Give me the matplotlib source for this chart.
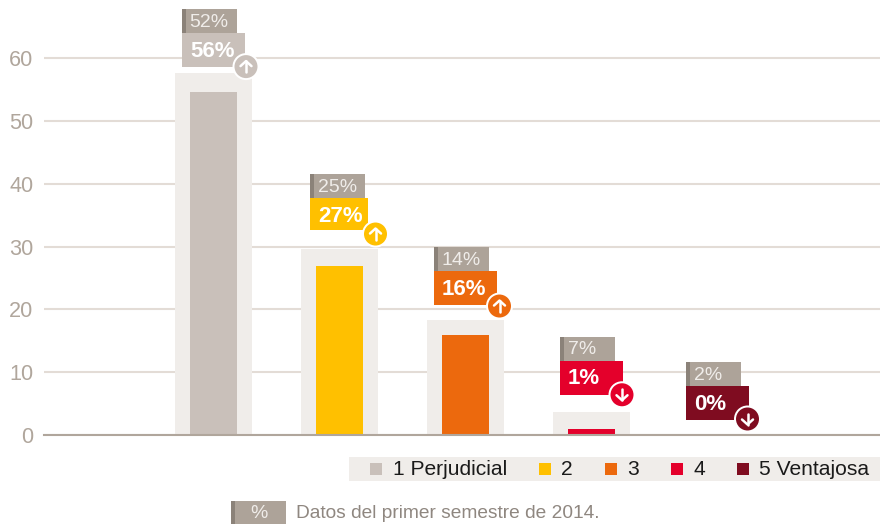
import matplotlib
matplotlib.use("Agg")
import matplotlib.pyplot as plt
from matplotlib.lines import Line2D
from matplotlib.patches import Circle, Rectangle
from matplotlib.transforms import IdentityTransform

plt.rcParams["font.family"] = ["Liberation Sans", "DejaVu Sans"]

# data
categories = ["1 Perjudicial", "2", "3", "4", "5 Ventajosa"]
values_2014 = [54.6, 26.9, 15.9, 1.0, 0.0]
values_back = [57.6, 29.6, 18.3, 3.7, 0.0]
labels_new = ["56%", "27%", "16%", "1%", "0%"]
labels_old = ["52%", "25%", "14%", "7%", "2%"]
trend_up = [True, True, True, False, False]
y_ticks = [0, 10, 20, 30, 40, 50, 60]

# styles
colors = ["#c9c0ba", "#ffc000", "#ec690d", "#e4002b", "#7f0c20"]
back_color = "#f0edea"
old_color = "#ada399"
old_dark = "#8b8279"
grid_color = "#e3dcd6"
base_color = "#b0a69c"
tick_color = "#b0a69c"

W, H = 880, 524
fig = plt.figure(figsize=(W / 100, H / 100), dpi=100)
ax = fig.add_axes([44 / W, (H - 435) / H, 836 / W, 435 / H])

ax.set_xlim((44 - 213.5) / 126, (880 - 213.5) / 126)
ax.set_ylim(0, 435 / 6.283)

x = range(len(categories))
ax.bar(x, values_back, width=77 / 126, color=back_color, zorder=2)
ax.bar(x, values_2014, width=47 / 126, color=colors, zorder=3)

ax.set_yticks(y_ticks)
ax.set_xticks([])
ax.yaxis.grid(True, color=grid_color, linewidth=1.5, zorder=1)
ax.set_axisbelow(True)
ax.tick_params(axis="y", length=0, pad=7.5, labelsize=15.6, labelcolor=tick_color)
for s in ["top", "left", "right"]:
    ax.spines[s].set_visible(False)
ax.spines["bottom"].set_color(base_color)
ax.spines["bottom"].set_linewidth(1.5)
ax.spines["bottom"].set_zorder(5)


# everything below is placed in image pixels, y counted from the top
def box(x0, y0, w, h, color):
    fig.add_artist(Rectangle((x0, H - y0 - h), w, h, facecolor=color, edgecolor="none",
                             transform=IdentityTransform(), zorder=6))


def label(x0, y0, s, size, color, ha="left", weight="normal"):
    fig.text(x0, H - y0, s, fontsize=size, color=color, ha=ha, va="center", fontweight=weight,
             transform=IdentityTransform(), zorder=8)


def arrow(cx, cy, up):
    d = 1 if up else -1
    y = H - cy
    for xs, ys in [([cx, cx], [y - 5.5 * d, y + 5.5 * d]),
                   ([cx - 5.5, cx, cx + 5.5], [y + 0.5 * d, y + 5.5 * d, y + 0.5 * d])]:
        fig.add_artist(Line2D(xs, ys, color="white", linewidth=1.8, solid_capstyle="round",
                              solid_joinstyle="round", transform=IdentityTransform(), zorder=9))


gaps = [6, 17, 15, 17, 15]
new_w = [63, 58, 63, 63, 63]
new_h = [34, 32, 34, 34, 34]
lefts = [-31.5, -29.5, -31.5, -31.5, -31.5]
circle_dx = [64, 65.5, 65.5, 62, 61.5]
circle_dy = [33.5, 36, 35, 34, 33]

fig.canvas.draw()
for i in x:
    px, py = ax.transData.transform((i, values_back[i]))
    py = H - py
    left = px + lefts[i]
    new_top = py - gaps[i] - 34
    old_top = new_top - 24

    box(left, old_top, 55, 24.5, old_color)
    box(left, old_top, 4, 24.5, old_dark)
    label(left + 7.5, old_top + 13, labels_old[i], 14, "#f0edea")

    box(left, new_top, new_w[i], new_h[i], colors[i])
    label(left + 8, new_top + 18, labels_new[i], 16, "white", weight="bold")

    cx, cy = left + circle_dx[i], new_top + circle_dy[i]
    fig.add_artist(Circle((cx, H - cy), 13.5, facecolor="white", edgecolor="none",
                          transform=IdentityTransform(), zorder=7))
    fig.add_artist(Circle((cx, H - cy), 11.5, facecolor=colors[i], edgecolor="none",
                          transform=IdentityTransform(), zorder=8))
    arrow(cx, cy, trend_up[i])

# legend strip
box(349, 457, 532, 24, back_color)
legend_sq = [370, 539, 605, 671, 737]
legend_tx = [393, 561, 627, 693, 759]
for i, name in enumerate(categories):
    box(legend_sq[i], 463, 12, 12, colors[i])
    label(legend_tx[i], 469.5, name, 15.1, "#1a1a1a")

# footer
box(231, 501, 55, 23, old_color)
box(231, 501, 4, 23, old_dark)
label(259, 513, "%", 14, "#f0edea", ha="center")
label(296, 513, "Datos del primer semestre de 2014.", 13.8, "#8f8780")

fig.savefig("out.png", dpi=100)
